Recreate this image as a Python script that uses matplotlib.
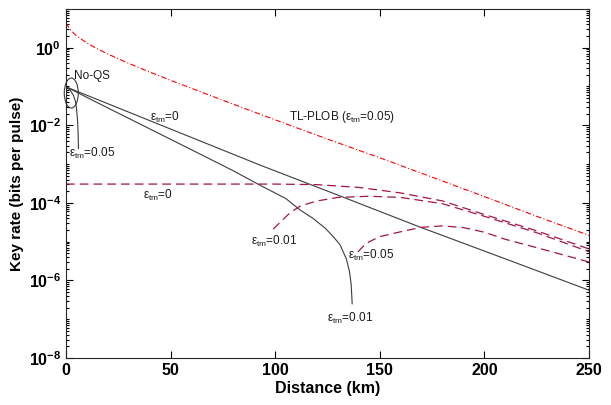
import matplotlib
matplotlib.use("Agg")
import matplotlib.pyplot as plt
import numpy as np
from matplotlib.patches import Ellipse
from matplotlib.ticker import FixedLocator, LogLocator, FuncFormatter, NullFormatter

plt.rcParams["font.family"] = ["Liberation Sans", "DejaVu Sans"]
plt.rcParams["mathtext.fontset"] = "custom"
plt.rcParams["mathtext.rm"] = "Liberation Sans"
plt.rcParams["mathtext.bf"] = "Liberation Sans:bold"
plt.rcParams["mathtext.it"] = "Liberation Sans:italic"

# TL-PLOB bound (red dash-dot)
plob_d = [0, 2, 5, 10, 15, 20, 30, 40, 50, 75, 100, 125, 150, 175, 200, 225, 250]
plob_r = [4.37, 2.92, 2.03, 1.32, 0.935, 0.687, 0.394, 0.236, 0.144, 0.0441, 0.0138,
          4.4e-3, 1.45e-3, 4.6e-4, 1.45e-4, 4.5e-5, 1.45e-5]

# No-QS (solid)
noqs0_d = [0, 25, 50, 93, 130, 169, 210, 250]
noqs0_r = [9.8e-2, 2.8e-2, 8.0e-3, 9.3e-4, 1.58e-4, 2.4e-5, 3.6e-6, 5.6e-7]

noqs1_d = [0, 20, 40, 64, 80, 93, 105, 112, 118, 124, 128, 131, 134, 135.5, 136.3, 136.8]
noqs1_r = [9.8e-2, 2.8e-2, 8.1e-3, 1.82e-3, 6.7e-4, 2.8e-4, 1.3e-4, 6.5e-5, 4.0e-5,
           2.2e-5, 1.3e-5, 8.3e-6, 3.6e-6, 1.7e-6, 8.0e-7, 2.5e-7]

noqs5_d = [0, 2, 3.5, 4.5, 5.0, 5.5, 5.8, 5.95]
noqs5_r = [9.8e-2, 8.0e-2, 6.0e-2, 4.2e-2, 2.8e-2, 1.4e-2, 6.3e-3, 2.5e-3]

# with QS (dashed)
qs0_d = [0, 100, 120, 140, 160, 180, 200, 225, 250]
qs0_r = [3.05e-4, 3.05e-4, 2.95e-4, 2.5e-4, 1.8e-4, 1.12e-4, 5.0e-5, 1.9e-5, 6.5e-6]

qs1_d = [99, 103, 107, 112, 120, 130, 145, 160, 180, 200, 225, 250]
qs1_r = [2.1e-5, 3.4e-5, 5.5e-5, 8.3e-5, 1.12e-4, 1.38e-4, 1.48e-4, 1.38e-4, 9.5e-5,
         4.5e-5, 1.7e-5, 5.5e-6]

qs5_d = [139.5, 142, 145, 150, 160, 170, 180, 190, 200, 210, 225, 250]
qs5_r = [5.4e-6, 7.5e-6, 1.0e-5, 1.35e-5, 1.8e-5, 2.35e-5, 2.55e-5, 2.3e-5, 1.75e-5,
         1.15e-5, 7.0e-6, 3.0e-6]

DARKRED = "#a3173f"
GRAY = "#3c3c3c"

fig = plt.figure(figsize=(6.11, 4.05), dpi=100)
ax = fig.add_axes([0.108, 0.116, 0.856, 0.862])

ax.plot(plob_d, plob_r, color="#ff0000", lw=0.8, dashes=(5, 2, 1, 2))
ax.plot(noqs0_d, noqs0_r, color=GRAY, lw=0.8)
ax.plot(noqs1_d, noqs1_r, color=GRAY, lw=0.8)
ax.plot(noqs5_d, noqs5_r, color=GRAY, lw=0.8)
for d, r in [(qs0_d, qs0_r), (qs1_d, qs1_r), (qs5_d, qs5_r)]:
    ax.plot(d, r, color=DARKRED, lw=0.9, dashes=(7, 4))

ax.set_yscale("log")
ax.set_xlim(0, 250)
ax.set_ylim(1e-8, 1e1)
ax.xaxis.set_major_locator(FixedLocator([0, 50, 100, 150, 200, 250]))
ax.yaxis.set_major_locator(FixedLocator([1e-8, 1e-6, 1e-4, 1e-2, 1e0]))
ax.yaxis.set_minor_locator(LogLocator(base=10, subs=np.arange(1, 10), numticks=20))
ax.yaxis.set_minor_formatter(NullFormatter())
ax.yaxis.set_major_formatter(FuncFormatter(lambda v, p: r"$\mathbf{10^{%d}}$" % round(np.log10(v))))
ax.tick_params(which="both", direction="in", top=True, right=True, width=0.8)
ax.tick_params(axis="x", labelsize=11.5)
ax.tick_params(axis="y", labelsize=11.5)
ax.tick_params(which="major", length=5)
ax.tick_params(which="minor", length=2.5)
for lab in ax.get_xticklabels():
    lab.set_fontweight("bold")
for s in ax.spines.values():
    s.set_linewidth(0.8)
    s.set_color("#262626")

ax.set_xlabel("Distance (km)", fontsize=11.5, fontweight="bold", labelpad=2)
ax.set_ylabel("Key rate (bits per pulse)", fontsize=11, fontweight="bold", labelpad=3)

ell = Ellipse((0.0101, 0.759), 0.0268, 0.086, transform=ax.transAxes,
              fill=False, edgecolor=GRAY, lw=0.8, clip_on=False)
ax.add_patch(ell)

tk = dict(fontsize=8.5, color="#1a1a1a")
ax.text(4, 10 ** -0.73, "No-QS", ha="left", va="center", **tk)
ax.text(12.6, 10 ** -2.72, r"ε$_{\mathregular{tm}}$=0.05", ha="center", va="center", **tk)
ax.text(47.4, 10 ** -1.8, r"ε$_{\mathregular{tm}}$=0", ha="center", va="center", **tk)
ax.text(132, 10 ** -1.78, r"TL-PLOB (ε$_{\mathregular{tm}}$=0.05)", ha="center", va="center", **tk)
ax.text(44, 10 ** -3.82, r"ε$_{\mathregular{tm}}$=0", ha="center", va="center", **tk)
ax.text(99.6, 10 ** -5.0, r"ε$_{\mathregular{tm}}$=0.01", ha="center", va="center", **tk)
ax.text(146, 10 ** -5.35, r"ε$_{\mathregular{tm}}$=0.05", ha="center", va="center", **tk)
ax.text(136, 10 ** -6.97, r"ε$_{\mathregular{tm}}$=0.01", ha="center", va="center", **tk)

fig.savefig("out.png", dpi=100)
